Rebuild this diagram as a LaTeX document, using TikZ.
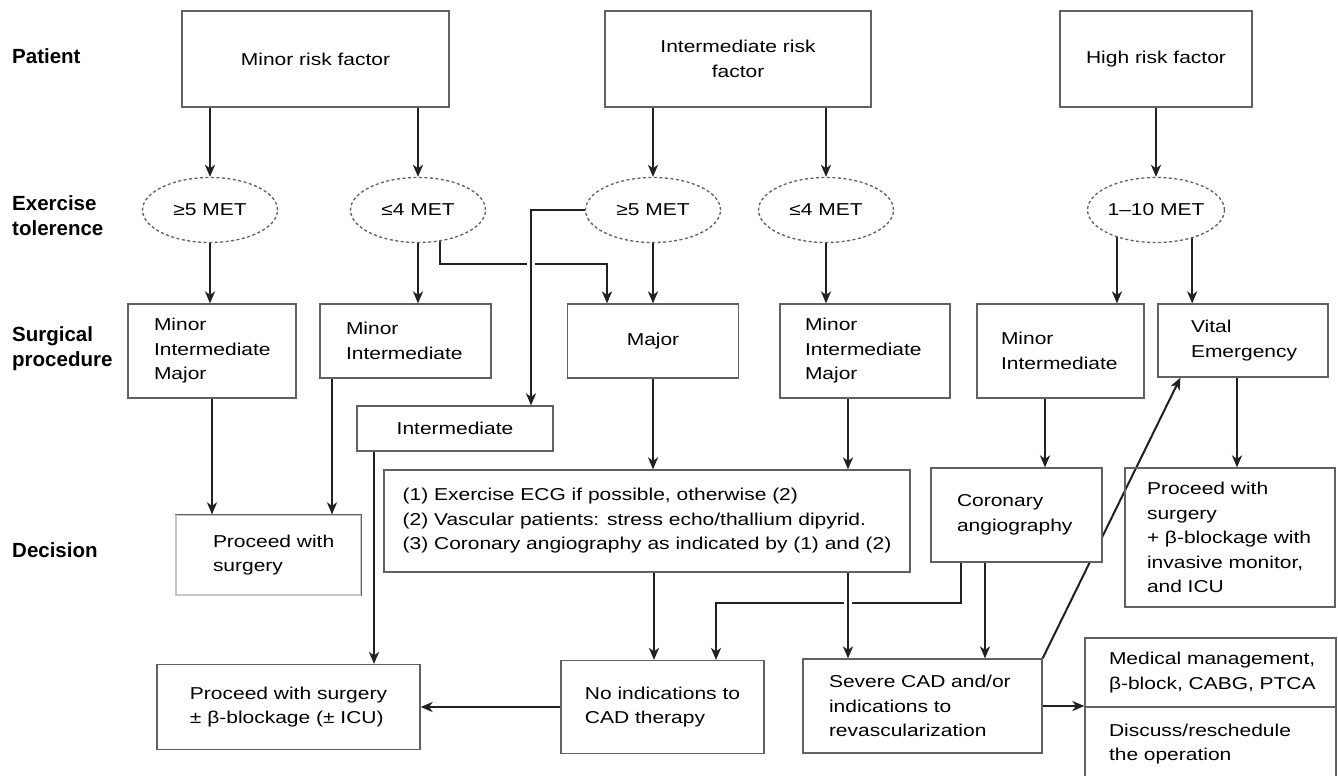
\documentclass[tikz,border=0pt]{standalone}
\usepackage{fontspec}
\setmainfont{Liberation Sans}
\newfontfamily\bodyf{Liberation Sans}[FakeStretch=1.22]
\usetikzlibrary{arrows.meta,shapes.geometric,calc}
\pgfdeclarelayer{paper}
\pgfdeclarelayer{bg}
\pgfsetlayers{paper,bg,main}
\definecolor{boxc}{gray}{0.38}
\definecolor{linec}{gray}{0.13}
\begin{document}
\begin{tikzpicture}[x=1pt,y=-1pt,
 bodytext/.style={font=\bodyf\fontsize{17.2}{24.5}\selectfont},
 box/.style={draw=boxc, line width=1.2pt, fill=white, inner sep=0pt, bodytext},
 lbox/.style 2 args={box, minimum width=#1, text width=#2, align=left},
 met/.style={ellipse, draw=boxc, dash pattern=on 3pt off 2.5pt, line width=1.3pt, fill=white, minimum width=135pt, minimum height=65pt, inner sep=0pt, bodytext},
 lab/.style={anchor=west, align=left, inner sep=0pt, font=\bfseries\fontsize{20.5}{25}\selectfont},
 conn/.style={draw=linec, line width=2pt},
 arr/.style={conn, -{Stealth[length=12pt,width=10pt,inset=3.5pt]}},
 over/.style={preaction={draw=white, line width=8pt}},
]
\useasboundingbox (0,0) rectangle (1338,776);
\begin{pgfonlayer}{paper}
\fill[white] (0,0) rectangle (1338,776);
\end{pgfonlayer}

% row labels
\node[lab] (lp) at (12,56) {Patient};
\node[lab] (le) at (12,215.5) {Exercise\\tolerence};
\node[lab] (ls) at (12,348.5) {Surgical\\procedure};
\node[lab] (ld) at (12,550) {Decision};

% patient
\node[box, minimum width=267pt, minimum height=96pt] (minor) at (315.5,59) {Minor risk factor};
\node[box, minimum width=266pt, minimum height=96pt, align=center] (inter) at (738,59) {Intermediate risk\\factor};
\node[box, minimum width=192pt, minimum height=96pt] (high) at (1156,59) {High risk factor};

% exercise tolerance
\node[met] (e1) at (210,210) {≥5 MET};
\node[met] (e2) at (418,210) {≤4 MET};
\node[met] (e3) at (653,210) {≥5 MET};
\node[met] (e4) at (826,210) {≤4 MET};
\node[met] (e5) at (1156,210) {1–10 MET};

% surgical procedure
\node[lbox={168pt}{116pt}, minimum height=94pt] (sA) at (212,351) {Minor\\Intermediate\\Major};
\node[lbox={171pt}{119pt}, minimum height=74pt] (sB) at (405.5,341) {Minor\\Intermediate};
\node[box, minimum width=171pt, minimum height=74pt] (sC) at (653,341) {Major};
\node[lbox={170pt}{120pt}, minimum height=94pt] (sD) at (865,351) {Minor\\Intermediate\\Major};
\node[lbox={167pt}{119pt}, minimum height=94pt] (sE) at (1060.5,351) {Minor\\Intermediate};
\node[lbox={170pt}{104pt}, minimum height=73pt] (sF) at (1243,340.5) {Vital\\Emergency};
\node[box, minimum width=196pt, minimum height=45pt] (I) at (455,428.5) {Intermediate};

% decision
\node[lbox={185pt}{111pt}, minimum height=80pt, draw=black!22] (P1) at (268.5,555) {\mbox{Proceed with}\\surgery};
\node[box, minimum width=526pt, minimum height=102pt, align=left] (Q) at (647,521)
  {(1) Exercise ECG if possible, otherwise (2)\\(2) Vascular patients: stress echo/thallium dipyrid.\\(3) Coronary angiography as indicated by (1) and (2)};
\node[lbox={171pt}{119pt}, minimum height=94pt] (R) at (1016.5,515) {Coronary\\angiography};
\node[lbox={210pt}{166pt}, minimum height=139pt, fill=none] (S) at (1230,537.5)
  {\mbox{Proceed with}\\surgery\\\mbox{+ β-blockage with}\\\mbox{invasive monitor,}\\\mbox{and ICU}};

% outcome
\node[box, minimum width=263pt, minimum height=85pt, align=left] (T) at (288.5,707) {Proceed with surgery\\± β-blockage (± ICU)};
\node[box, minimum width=203pt, minimum height=93pt, align=left] (U) at (662.5,707) {No indications to\\CAD therapy};
\node[lbox={239pt}{187pt}, minimum height=94pt] (V) at (922.5,706) {\mbox{Severe CAD and/or}\\\mbox{indications to}\\revascularization};
\node[lbox={251pt}{203pt}, minimum height=69pt] (W1) at (1210.5,672.5) {\mbox{Medical management,}\\\mbox{β-block, CABG, PTCA}};
\node[lbox={251pt}{203pt}, minimum height=74pt] (W2) at (1210.5,744) {\mbox{Discuss/reschedule}\\\mbox{the operation}};

\draw[draw=boxc, line width=1.4pt] (P1.north west) -- (P1.north east) -- (P1.south east);

\coordinate (j1) at (607,264);
\coordinate (j2) at (531,240);
\coordinate (j3) at (961,603);
\coordinate (j4) at (716,603);

\begin{pgfonlayer}{bg}
\draw[arr] (minor.south -| e1) -- (e1.north);
\draw[arr] (minor.south -| e2) -- (e2.north);
\draw[arr] (inter.south -| e3) -- (e3.north);
\draw[arr] (inter.south -| e4) -- (e4.north);
\draw[arr] (high.south -| e5) -- (e5.north);

\draw[arr] (e1.south) -- (e1.south |- sA.north);
\draw[arr] (e2.south) -- (e2.south |- sB.north);
\draw[arr] (e2.-55) |- (j1) -- (j1 |- sC.north);
\draw[arr] (e3.south) -- (e3.south |- sC.north);
\draw[conn] (e3.west) -| (j2);
\draw[arr, over] (j2) -- (j2 |- I.north);
\draw[arr] (e4.south) -- (e4.south |- sD.north);
\draw[arr] (e5.-145) -- (e5.-145 |- sE.north);
\draw[arr] (e5.-38) -- (e5.-38 |- sF.north);

\draw[arr] (sA.south) -- (sA.south |- P1.north);
\draw[arr] ([xshift=-73.5pt]sB.south) -- ([xshift=-73.5pt]sB.south |- P1.north);
\draw[arr] (sC.south) -- (sC.south |- Q.north);
\draw[arr] ([xshift=-17pt]sD.south) -- ([xshift=-17pt]sD.south |- Q.north);
\draw[arr] ([xshift=-15.5pt]sE.south) -- ([xshift=-15.5pt]sE.south |- R.north);
\draw[arr] ([xshift=-6pt]sF.south) -- ([xshift=-6pt]sF.south |- S.north);
\draw[arr] ([xshift=-81pt]I.south) -- ([xshift=-81pt]I.south |- T.north);

\draw[arr] ([xshift=7pt]Q.south) -- ([xshift=7pt]Q.south |- U.north);
\draw[arr] (R.south -| j3) -- (j3) -- (j4) -- (j4 |- U.north);
\draw[arr, over] ([xshift=201pt]Q.south) -- ([xshift=201pt]Q.south |- V.north);
\draw[arr] ([xshift=-31.5pt]R.south) -- ([xshift=-31.5pt]R.south |- V.north);
\draw[arr] (U.west) -- (U.west -| T.east);
\draw[arr] (V.east) -- (V.east -| W1.west);
\draw[arr] (V.north east) -- ([xshift=23pt]sF.south west);
\end{pgfonlayer}
\end{tikzpicture}
\end{document}
